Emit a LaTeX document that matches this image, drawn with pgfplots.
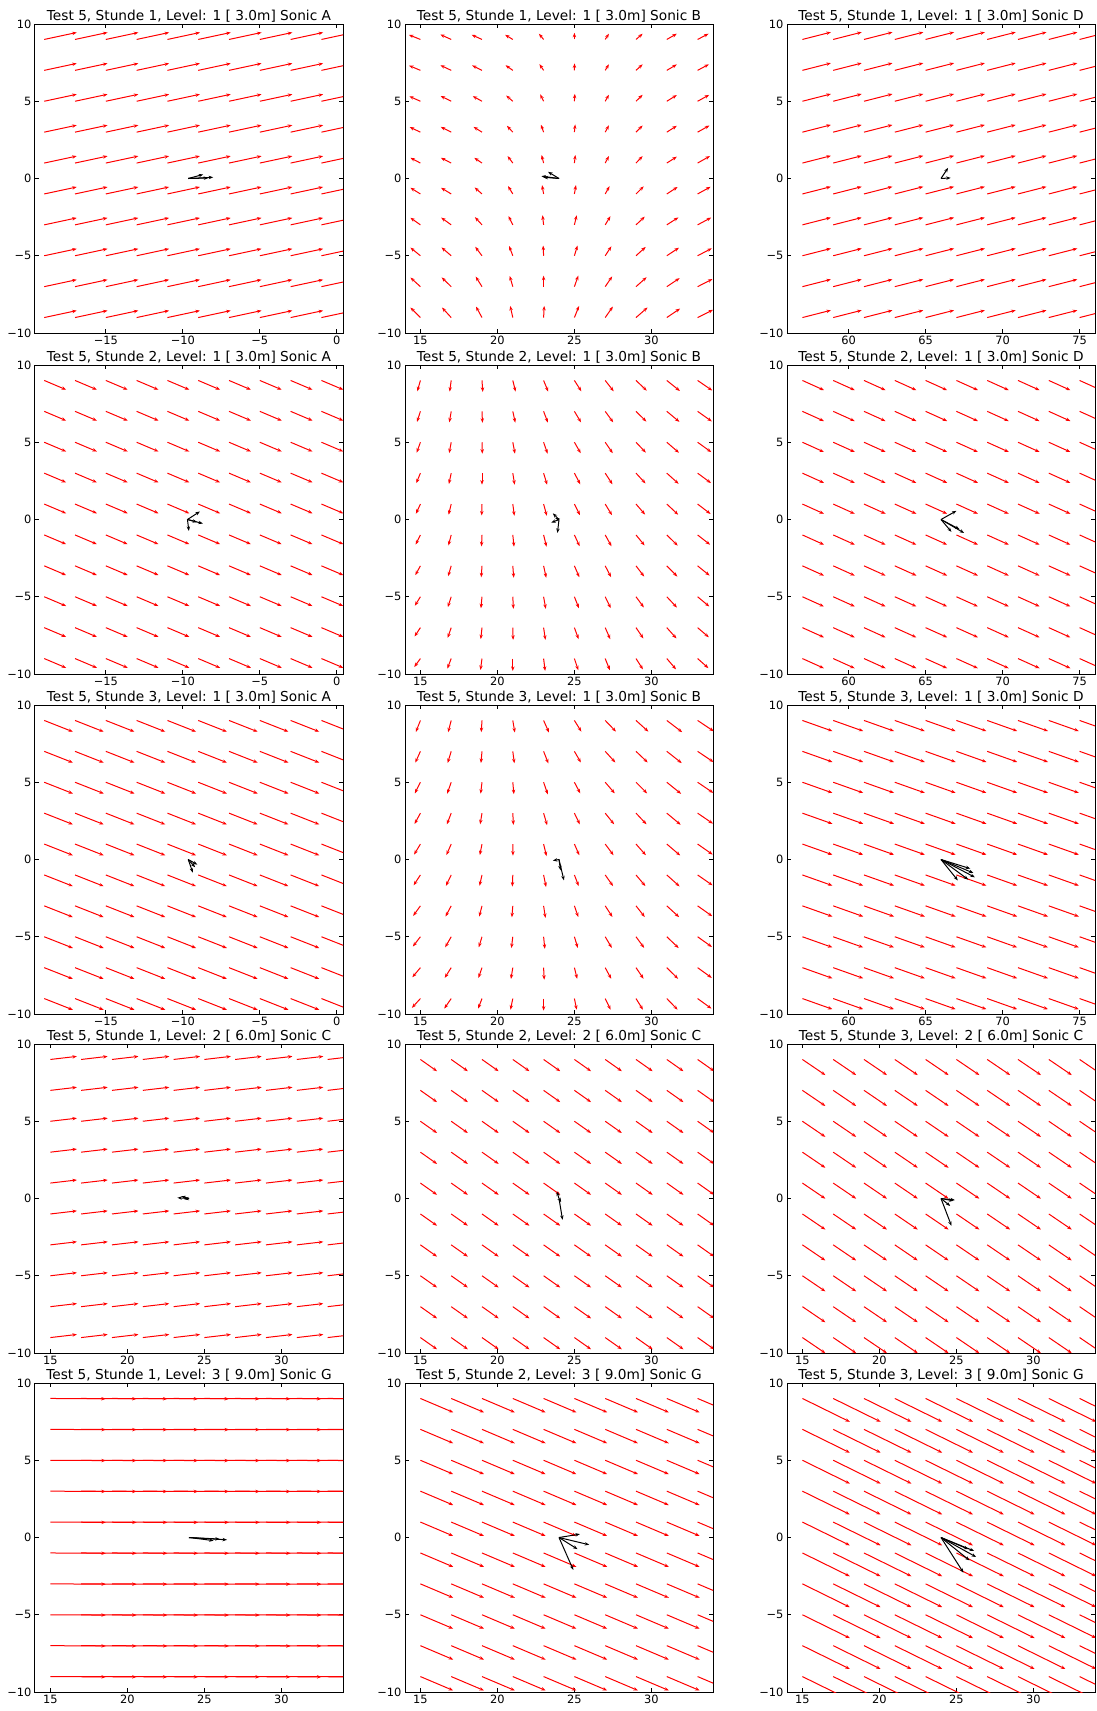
\documentclass[border=0pt]{standalone}
\usepackage{fontspec}
\setmainfont{DejaVu Sans}
\usepackage{pgfplots}
\usepackage{pgfplotstable}
\pgfplotsset{compat=1.18}
\usetikzlibrary{arrows.meta}

\pgfplotstableread[row sep=\\]{x y\\
-19 9\\ -17 9\\ -15 9\\ -13 9\\ -11 9\\ -9 9\\ -7 9\\ -5 9\\ -3 9\\ -1 9\\
-19 7\\ -17 7\\ -15 7\\ -13 7\\ -11 7\\ -9 7\\ -7 7\\ -5 7\\ -3 7\\ -1 7\\
-19 5\\ -17 5\\ -15 5\\ -13 5\\ -11 5\\ -9 5\\ -7 5\\ -5 5\\ -3 5\\ -1 5\\
-19 3\\ -17 3\\ -15 3\\ -13 3\\ -11 3\\ -9 3\\ -7 3\\ -5 3\\ -3 3\\ -1 3\\
-19 1\\ -17 1\\ -15 1\\ -13 1\\ -11 1\\ -9 1\\ -7 1\\ -5 1\\ -3 1\\ -1 1\\
-19 -1\\ -17 -1\\ -15 -1\\ -13 -1\\ -11 -1\\ -9 -1\\ -7 -1\\ -5 -1\\ -3 -1\\ -1 -1\\
-19 -3\\ -17 -3\\ -15 -3\\ -13 -3\\ -11 -3\\ -9 -3\\ -7 -3\\ -5 -3\\ -3 -3\\ -1 -3\\
-19 -5\\ -17 -5\\ -15 -5\\ -13 -5\\ -11 -5\\ -9 -5\\ -7 -5\\ -5 -5\\ -3 -5\\ -1 -5\\
-19 -7\\ -17 -7\\ -15 -7\\ -13 -7\\ -11 -7\\ -9 -7\\ -7 -7\\ -5 -7\\ -3 -7\\ -1 -7\\
-19 -9\\ -17 -9\\ -15 -9\\ -13 -9\\ -11 -9\\ -9 -9\\ -7 -9\\ -5 -9\\ -3 -9\\ -1 -9\\
}\gridA

\pgfplotstableread[row sep=\\]{x y\\
15 9\\ 17 9\\ 19 9\\ 21 9\\ 23 9\\ 25 9\\ 27 9\\ 29 9\\ 31 9\\ 33 9\\
15 7\\ 17 7\\ 19 7\\ 21 7\\ 23 7\\ 25 7\\ 27 7\\ 29 7\\ 31 7\\ 33 7\\
15 5\\ 17 5\\ 19 5\\ 21 5\\ 23 5\\ 25 5\\ 27 5\\ 29 5\\ 31 5\\ 33 5\\
15 3\\ 17 3\\ 19 3\\ 21 3\\ 23 3\\ 25 3\\ 27 3\\ 29 3\\ 31 3\\ 33 3\\
15 1\\ 17 1\\ 19 1\\ 21 1\\ 23 1\\ 25 1\\ 27 1\\ 29 1\\ 31 1\\ 33 1\\
15 -1\\ 17 -1\\ 19 -1\\ 21 -1\\ 23 -1\\ 25 -1\\ 27 -1\\ 29 -1\\ 31 -1\\ 33 -1\\
15 -3\\ 17 -3\\ 19 -3\\ 21 -3\\ 23 -3\\ 25 -3\\ 27 -3\\ 29 -3\\ 31 -3\\ 33 -3\\
15 -5\\ 17 -5\\ 19 -5\\ 21 -5\\ 23 -5\\ 25 -5\\ 27 -5\\ 29 -5\\ 31 -5\\ 33 -5\\
15 -7\\ 17 -7\\ 19 -7\\ 21 -7\\ 23 -7\\ 25 -7\\ 27 -7\\ 29 -7\\ 31 -7\\ 33 -7\\
15 -9\\ 17 -9\\ 19 -9\\ 21 -9\\ 23 -9\\ 25 -9\\ 27 -9\\ 29 -9\\ 31 -9\\ 33 -9\\
}\gridB

\pgfplotstableread[row sep=\\]{x y\\
57 9\\ 59 9\\ 61 9\\ 63 9\\ 65 9\\ 67 9\\ 69 9\\ 71 9\\ 73 9\\ 75 9\\
57 7\\ 59 7\\ 61 7\\ 63 7\\ 65 7\\ 67 7\\ 69 7\\ 71 7\\ 73 7\\ 75 7\\
57 5\\ 59 5\\ 61 5\\ 63 5\\ 65 5\\ 67 5\\ 69 5\\ 71 5\\ 73 5\\ 75 5\\
57 3\\ 59 3\\ 61 3\\ 63 3\\ 65 3\\ 67 3\\ 69 3\\ 71 3\\ 73 3\\ 75 3\\
57 1\\ 59 1\\ 61 1\\ 63 1\\ 65 1\\ 67 1\\ 69 1\\ 71 1\\ 73 1\\ 75 1\\
57 -1\\ 59 -1\\ 61 -1\\ 63 -1\\ 65 -1\\ 67 -1\\ 69 -1\\ 71 -1\\ 73 -1\\ 75 -1\\
57 -3\\ 59 -3\\ 61 -3\\ 63 -3\\ 65 -3\\ 67 -3\\ 69 -3\\ 71 -3\\ 73 -3\\ 75 -3\\
57 -5\\ 59 -5\\ 61 -5\\ 63 -5\\ 65 -5\\ 67 -5\\ 69 -5\\ 71 -5\\ 73 -5\\ 75 -5\\
57 -7\\ 59 -7\\ 61 -7\\ 63 -7\\ 65 -7\\ 67 -7\\ 69 -7\\ 71 -7\\ 73 -7\\ 75 -7\\
57 -9\\ 59 -9\\ 61 -9\\ 63 -9\\ 65 -9\\ 67 -9\\ 69 -9\\ 71 -9\\ 73 -9\\ 75 -9\\
}\gridD

% Stunde 1, Sonic B
\pgfplotstableread[row sep=\\]{x y u v\\
15 9 -0.75 0.30\\ 17 9 -0.71 0.32\\ 19 9 -0.67 0.30\\ 21 9 -0.50 0.30\\ 23 9 -0.30 0.37\\ 25 9 0.00 0.43\\ 27 9 0.24 0.37\\ 29 9 0.43 0.37\\ 31 9 0.65 0.37\\ 33 9 0.71 0.37\\
15 7 -0.74 0.31\\ 17 7 -0.70 0.33\\ 19 7 -0.64 0.32\\ 21 7 -0.47 0.33\\ 23 7 -0.27 0.40\\ 25 7 0.01 0.45\\ 27 7 0.24 0.39\\ 29 7 0.43 0.39\\ 31 7 0.65 0.38\\ 33 7 0.73 0.39\\
15 5 -0.72 0.32\\ 17 5 -0.69 0.34\\ 19 5 -0.60 0.33\\ 21 5 -0.43 0.37\\ 23 5 -0.22 0.44\\ 25 5 0.03 0.48\\ 27 5 0.24 0.42\\ 29 5 0.43 0.42\\ 31 5 0.65 0.40\\ 33 5 0.75 0.41\\
15 3 -0.70 0.33\\ 17 3 -0.68 0.34\\ 19 3 -0.55 0.34\\ 21 3 -0.38 0.41\\ 23 3 -0.17 0.48\\ 25 3 0.05 0.50\\ 27 3 0.24 0.44\\ 29 3 0.43 0.43\\ 31 3 0.65 0.41\\ 33 3 0.77 0.43\\
15 1 -0.65 0.34\\ 17 1 -0.67 0.34\\ 19 1 -0.50 0.34\\ 21 1 -0.34 0.45\\ 23 1 -0.13 0.52\\ 25 1 0.06 0.52\\ 27 1 0.24 0.45\\ 29 1 0.43 0.45\\ 31 1 0.65 0.41\\ 33 1 0.80 0.45\\
15 -1 -0.65 0.40\\ 17 -1 -0.66 0.40\\ 19 -1 -0.48 0.42\\ 21 -1 -0.31 0.51\\ 23 -1 -0.10 0.57\\ 25 -1 0.10 0.57\\ 27 -1 0.28 0.50\\ 29 -1 0.50 0.49\\ 31 -1 0.70 0.45\\ 33 -1 0.84 0.46\\
15 -3 -0.65 0.46\\ 17 -3 -0.65 0.47\\ 19 -3 -0.46 0.50\\ 21 -3 -0.28 0.57\\ 23 -3 -0.07 0.62\\ 25 -3 0.15 0.62\\ 27 -3 0.34 0.56\\ 29 -3 0.57 0.53\\ 31 -3 0.75 0.48\\ 33 -3 0.88 0.47\\
15 -5 -0.65 0.53\\ 17 -5 -0.63 0.54\\ 19 -5 -0.44 0.58\\ 21 -5 -0.24 0.63\\ 23 -5 -0.03 0.66\\ 25 -5 0.20 0.66\\ 27 -5 0.40 0.61\\ 29 -5 0.63 0.57\\ 31 -5 0.79 0.52\\ 33 -5 0.92 0.48\\
15 -7 -0.65 0.59\\ 17 -7 -0.62 0.60\\ 19 -7 -0.41 0.65\\ 21 -7 -0.20 0.69\\ 23 -7 0.00 0.71\\ 25 -7 0.25 0.71\\ 27 -7 0.45 0.66\\ 29 -7 0.69 0.61\\ 31 -7 0.83 0.55\\ 33 -7 0.96 0.49\\
15 -9 -0.65 0.65\\ 17 -9 -0.60 0.65\\ 19 -9 -0.39 0.71\\ 21 -9 -0.17 0.75\\ 23 -9 0.04 0.75\\ 25 -9 0.30 0.75\\ 27 -9 0.50 0.71\\ 29 -9 0.75 0.65\\ 31 -9 0.86 0.58\\ 33 -9 1.00 0.50\\
}\tabSoneB

% Stunde 2, Sonic B
\pgfplotstableread[row sep=\\]{x y u v\\
15 9 -0.20 -0.70\\ 17 9 -0.10 -0.72\\ 19 9 0.05 -0.74\\ 21 9 0.18 -0.72\\ 23 9 0.30 -0.72\\ 25 9 0.45 -0.70\\ 27 9 0.55 -0.70\\ 29 9 0.70 -0.66\\ 31 9 0.85 -0.68\\ 33 9 0.95 -0.65\\
15 7 -0.22 -0.68\\ 17 7 -0.12 -0.71\\ 19 7 0.03 -0.74\\ 21 7 0.16 -0.73\\ 23 7 0.28 -0.73\\ 25 7 0.43 -0.71\\ 27 7 0.52 -0.71\\ 29 7 0.67 -0.66\\ 31 7 0.82 -0.68\\ 33 7 0.92 -0.65\\
15 5 -0.24 -0.67\\ 17 5 -0.13 -0.70\\ 19 5 0.02 -0.74\\ 21 5 0.14 -0.74\\ 23 5 0.26 -0.74\\ 25 5 0.41 -0.71\\ 27 5 0.49 -0.71\\ 29 5 0.64 -0.67\\ 31 5 0.79 -0.68\\ 33 5 0.89 -0.64\\
15 3 -0.27 -0.65\\ 17 3 -0.15 -0.70\\ 19 3 0.00 -0.74\\ 21 3 0.12 -0.75\\ 23 3 0.23 -0.75\\ 25 3 0.38 -0.72\\ 27 3 0.47 -0.72\\ 29 3 0.62 -0.67\\ 31 3 0.77 -0.69\\ 33 3 0.87 -0.64\\
15 1 -0.29 -0.63\\ 17 1 -0.17 -0.69\\ 19 1 -0.02 -0.74\\ 21 1 0.10 -0.76\\ 23 1 0.21 -0.76\\ 25 1 0.36 -0.72\\ 27 1 0.44 -0.72\\ 29 1 0.59 -0.68\\ 31 1 0.74 -0.69\\ 33 1 0.84 -0.64\\
15 -1 -0.31 -0.62\\ 17 -1 -0.18 -0.68\\ 19 -1 -0.03 -0.74\\ 21 -1 0.08 -0.76\\ 23 -1 0.19 -0.76\\ 25 -1 0.34 -0.73\\ 27 -1 0.41 -0.73\\ 29 -1 0.56 -0.68\\ 31 -1 0.71 -0.69\\ 33 -1 0.81 -0.63\\
15 -3 -0.33 -0.60\\ 17 -3 -0.20 -0.67\\ 19 -3 -0.05 -0.74\\ 21 -3 0.06 -0.77\\ 23 -3 0.17 -0.77\\ 25 -3 0.32 -0.73\\ 27 -3 0.38 -0.73\\ 29 -3 0.53 -0.69\\ 31 -3 0.68 -0.69\\ 33 -3 0.78 -0.63\\
15 -5 -0.36 -0.58\\ 17 -5 -0.22 -0.67\\ 19 -5 -0.07 -0.74\\ 21 -5 0.04 -0.78\\ 23 -5 0.14 -0.78\\ 25 -5 0.29 -0.74\\ 27 -5 0.36 -0.74\\ 29 -5 0.51 -0.69\\ 31 -5 0.66 -0.70\\ 33 -5 0.76 -0.63\\
15 -7 -0.38 -0.57\\ 17 -7 -0.23 -0.66\\ 19 -7 -0.08 -0.74\\ 21 -7 0.02 -0.79\\ 23 -7 0.12 -0.79\\ 25 -7 0.27 -0.74\\ 27 -7 0.33 -0.74\\ 29 -7 0.48 -0.70\\ 31 -7 0.63 -0.70\\ 33 -7 0.73 -0.62\\
15 -9 -0.40 -0.55\\ 17 -9 -0.25 -0.65\\ 19 -9 -0.10 -0.74\\ 21 -9 0.00 -0.80\\ 23 -9 0.10 -0.80\\ 25 -9 0.25 -0.75\\ 27 -9 0.30 -0.75\\ 29 -9 0.45 -0.70\\ 31 -9 0.60 -0.70\\ 33 -9 0.70 -0.62\\
}\tabStwoB

% Stunde 3, Sonic B
\pgfplotstableread[row sep=\\]{x y u v\\
15 9 -0.30 -0.75\\ 17 9 -0.20 -0.76\\ 19 9 -0.05 -0.76\\ 21 9 0.13 -0.78\\ 23 9 0.35 -0.78\\ 25 9 0.45 -0.72\\ 27 9 0.70 -0.72\\ 29 9 0.80 -0.72\\ 31 9 1.00 -0.76\\ 33 9 1.05 -0.70\\
15 7 -0.33 -0.73\\ 17 7 -0.23 -0.75\\ 19 7 -0.07 -0.75\\ 21 7 0.10 -0.77\\ 23 7 0.31 -0.78\\ 25 7 0.42 -0.72\\ 27 7 0.66 -0.72\\ 29 7 0.76 -0.72\\ 31 7 0.97 -0.76\\ 33 7 1.03 -0.69\\
15 5 -0.36 -0.72\\ 17 5 -0.26 -0.74\\ 19 5 -0.09 -0.74\\ 21 5 0.07 -0.77\\ 23 5 0.27 -0.78\\ 25 5 0.38 -0.72\\ 27 5 0.62 -0.72\\ 29 5 0.72 -0.72\\ 31 5 0.93 -0.75\\ 33 5 1.02 -0.69\\
15 3 -0.38 -0.70\\ 17 3 -0.28 -0.72\\ 19 3 -0.12 -0.72\\ 21 3 0.04 -0.76\\ 23 3 0.23 -0.78\\ 25 3 0.35 -0.72\\ 27 3 0.58 -0.72\\ 29 3 0.68 -0.72\\ 31 3 0.90 -0.75\\ 33 3 1.00 -0.68\\
15 1 -0.41 -0.68\\ 17 1 -0.31 -0.71\\ 19 1 -0.14 -0.71\\ 21 1 0.01 -0.75\\ 23 1 0.19 -0.78\\ 25 1 0.32 -0.72\\ 27 1 0.54 -0.72\\ 29 1 0.64 -0.72\\ 31 1 0.87 -0.74\\ 33 1 0.98 -0.68\\
15 -1 -0.44 -0.67\\ 17 -1 -0.34 -0.70\\ 19 -1 -0.16 -0.70\\ 21 -1 -0.03 -0.75\\ 23 -1 0.16 -0.78\\ 25 -1 0.28 -0.72\\ 27 -1 0.51 -0.72\\ 29 -1 0.61 -0.72\\ 31 -1 0.83 -0.74\\ 33 -1 0.97 -0.67\\
15 -3 -0.47 -0.65\\ 17 -3 -0.37 -0.69\\ 19 -3 -0.18 -0.69\\ 21 -3 -0.06 -0.74\\ 23 -3 0.12 -0.78\\ 25 -3 0.25 -0.72\\ 27 -3 0.47 -0.72\\ 29 -3 0.57 -0.72\\ 31 -3 0.80 -0.73\\ 33 -3 0.95 -0.67\\
15 -5 -0.49 -0.63\\ 17 -5 -0.39 -0.68\\ 19 -5 -0.21 -0.68\\ 21 -5 -0.09 -0.73\\ 23 -5 0.08 -0.78\\ 25 -5 0.22 -0.72\\ 27 -5 0.43 -0.72\\ 29 -5 0.53 -0.72\\ 31 -5 0.77 -0.73\\ 33 -5 0.93 -0.66\\
15 -7 -0.52 -0.62\\ 17 -7 -0.42 -0.66\\ 19 -7 -0.23 -0.66\\ 21 -7 -0.12 -0.73\\ 23 -7 0.04 -0.78\\ 25 -7 0.18 -0.72\\ 27 -7 0.39 -0.72\\ 29 -7 0.49 -0.72\\ 31 -7 0.73 -0.72\\ 33 -7 0.92 -0.66\\
15 -9 -0.55 -0.60\\ 17 -9 -0.45 -0.65\\ 19 -9 -0.25 -0.65\\ 21 -9 -0.15 -0.72\\ 23 -9 0.00 -0.78\\ 25 -9 0.15 -0.72\\ 27 -9 0.35 -0.72\\ 29 -9 0.45 -0.72\\ 31 -9 0.70 -0.72\\ 33 -9 0.90 -0.65\\
}\tabSthreeB

\pgfplotsset{
  qv/.style={scale only axis, width=308pt, height=309pt, anchor=north west,
    ymin=-10, ymax=10, ytick={-10,-5,0,5,10}, yticklabels={−10,−5,0,5,10},
    tick label style={font=\fontsize{11.4}{13}\selectfont},
    xticklabel style={inner sep=1pt, yshift=-1.5pt},
    every axis title/.style={at={(0.5,1)}, anchor=base, inner sep=0pt, yshift=3.6pt, font=\fontsize{13.7}{16}\selectfont},
    axis line style={line width=1pt},
    major tick length=4pt,
    every tick/.style={black, line width=0.8pt},
    tick pos=both, xticklabel pos=lower, yticklabel pos=left},
  colA/.style={xmin=-19.6, xmax=0.4, xtick={-15,-10,-5,0}, xticklabels={−15,−10,−5,0}},
  colB/.style={xmin=14, xmax=34, xtick={15,20,25,30}, xticklabels={15,20,25,30}},
  colD/.style={xmin=56, xmax=76, xtick={60,65,70,75}, xticklabels={60,65,70,75}},
  redq/.style={red, line width=1pt, -{Stealth[length=4.5pt,width=3.4pt]}},
  blkq/.style={black, line width=1pt, -{Stealth[length=4.5pt,width=3.4pt]}, quiver={u=\thisrow{u},v=\thisrow{v}}},
}

\begin{document}
\begin{tikzpicture}
\useasboundingbox (0,0) rectangle (1097pt,-1711pt);

% ---------------- Row 1 ----------------
\begin{axis}[qv, colA, at={(35pt,-24pt)}, title={Test 5, Stunde 1, Level: 1 [ 3.0m] Sonic A}]
\addplot[redq, quiver={u=2.11, v=0.45}] table {\gridA};
\addplot[blkq] table[row sep=\\] {x y u v\\ -9.65 0 1.62 0.08\\ -9.65 0 0.97 0.26\\ -9.65 0 1.30 0.03\\};
\end{axis}
\begin{axis}[qv, colB, at={(405pt,-24pt)}, title={Test 5, Stunde 1, Level: 1 [ 3.0m] Sonic B}]
\addplot[redq, quiver={u=\thisrow{u}, v=\thisrow{v}}] table {\tabSoneB};
\addplot[blkq] table[row sep=\\] {x y u v\\ 24 0 -1.14 0.15\\ 24 0 -0.71 0.43\\ 24 0 -1.00 0.08\\};
\end{axis}
\begin{axis}[qv, colD, at={(787pt,-24pt)}, title={Test 5, Stunde 1, Level: 1 [ 3.0m] Sonic D}]
\addplot[redq, quiver={u=1.85, v=0.47}] table {\gridD};
\addplot[blkq] table[row sep=\\] {x y u v\\ 66 0 0.46 0.69\\ 66 0 0.63 0.04\\};
\end{axis}

% ---------------- Row 2 ----------------
\begin{axis}[qv, colA, at={(35pt,-365pt)}, title={Test 5, Stunde 2, Level: 1 [ 3.0m] Sonic A}]
\addplot[redq, quiver={u=1.42, v=-0.60}] table {\gridA};
\addplot[blkq] table[row sep=\\] {x y u v\\ -9.7 0 0.81 0.52\\ -9.7 0 1.00 -0.26\\ -9.7 0 0.63 -0.17\\ -9.7 0 0.09 -0.74\\};
\end{axis}
\begin{axis}[qv, colB, at={(405pt,-365pt)}, title={Test 5, Stunde 2, Level: 1 [ 3.0m] Sonic B}]
\addplot[redq, quiver={u=\thisrow{u}, v=\thisrow{v}}] table {\tabStwoB};
\addplot[blkq] table[row sep=\\] {x y u v\\ 24 0 -0.40 0.40\\ 24 0 -0.10 -0.87\\ 24 0 -0.50 -0.20\\ 24 0 -0.25 0.10\\};
\end{axis}
\begin{axis}[qv, colD, at={(787pt,-365pt)}, title={Test 5, Stunde 2, Level: 1 [ 3.0m] Sonic D}]
\addplot[redq, quiver={u=1.40, v=-0.63}] table {\gridD};
\addplot[blkq] table[row sep=\\] {x y u v\\ 66 0 1.00 0.56\\ 66 0 1.50 -0.87\\ 66 0 0.68 -0.80\\ 66 0 1.20 -0.63\\};
\end{axis}

% ---------------- Row 3 ----------------
\begin{axis}[qv, colA, at={(35pt,-705pt)}, title={Test 5, Stunde 3, Level: 1 [ 3.0m] Sonic A}]
\addplot[redq, quiver={u=1.86, v=-0.73}] table {\gridA};
\addplot[blkq] table[row sep=\\] {x y u v\\ -9.65 0 0.59 -0.33\\ -9.65 0 0.30 -0.85\\ -9.65 0 0.45 -0.50\\};
\end{axis}
\begin{axis}[qv, colB, at={(405pt,-705pt)}, title={Test 5, Stunde 3, Level: 1 [ 3.0m] Sonic B}]
\addplot[redq, quiver={u=\thisrow{u}, v=\thisrow{v}}] table {\tabSthreeB};
\addplot[blkq] table[row sep=\\] {x y u v\\ 24 0 -0.40 -0.07\\ 24 0 0.32 -1.35\\ 24 0 0.10 -0.70\\};
\end{axis}
\begin{axis}[qv, colD, at={(787pt,-705pt)}, title={Test 5, Stunde 3, Level: 1 [ 3.0m] Sonic D}]
\addplot[redq, quiver={u=1.95, v=-0.69}] table {\gridD};
\addplot[blkq] table[row sep=\\] {x y u v\\ 66 0 1.90 -0.59\\ 66 0 2.20 -1.15\\ 66 0 1.77 -1.30\\ 66 0 1.09 -1.35\\ 66 0 2.10 -0.87\\};
\end{axis}

% ---------------- Row 4 ----------------
\begin{axis}[qv, colB, at={(35pt,-1044pt)}, title={Test 5, Stunde 1, Level: 2 [ 6.0m] Sonic C}]
\addplot[redq, quiver={u=1.72, v=0.20}] table {\gridB};
\addplot[blkq] table[row sep=\\] {x y u v\\ 24 0 -0.75 0.05\\ 24 0 -0.50 0.15\\ 24 0 -0.30 -0.05\\};
\end{axis}
\begin{axis}[qv, colB, at={(405pt,-1044pt)}, title={Test 5, Stunde 2, Level: 2 [ 6.0m] Sonic C}]
\addplot[redq, quiver={u=1.08, v=-0.76}] table {\gridB};
\addplot[blkq] table[row sep=\\] {x y u v\\ 24 0 -0.14 0.45\\ 24 0 0.23 -1.38\\ 24 0 0.14 -0.24\\};
\end{axis}
\begin{axis}[qv, colB, at={(787pt,-1044pt)}, title={Test 5, Stunde 3, Level: 2 [ 6.0m] Sonic C}]
\addplot[redq, quiver={u=1.49, v=-1.01}] table {\gridB};
\addplot[blkq] table[row sep=\\] {x y u v\\ 24 0 0.80 -0.15\\ 24 0 0.68 -1.77\\ 24 0 0.60 -0.48\\ 24 0 0.90 -0.10\\};
\end{axis}

% ---------------- Row 5 ----------------
\begin{axis}[qv, colB, at={(35pt,-1383pt)}, title={Test 5, Stunde 1, Level: 3 [ 9.0m] Sonic G}]
\addplot[redq, quiver={u=3.60, v=-0.02}] table {\gridB};
\addplot[blkq] table[row sep=\\] {x y u v\\ 24 0 2.47 -0.15\\ 24 0 1.60 -0.20\\ 24 0 2.00 -0.10\\};
\end{axis}
\begin{axis}[qv, colB, at={(405pt,-1383pt)}, title={Test 5, Stunde 2, Level: 3 [ 9.0m] Sonic G}]
\addplot[redq, quiver={u=2.13, v=-0.90}] table {\gridB};
\addplot[blkq] table[row sep=\\] {x y u v\\ 24 0 1.36 0.22\\ 24 0 1.96 -0.47\\ 24 0 1.20 -0.75\\ 24 0 0.93 -2.10\\};
\end{axis}
\begin{axis}[qv, colB, at={(787pt,-1383pt)}, title={Test 5, Stunde 3, Level: 3 [ 9.0m] Sonic G}]
\addplot[redq, quiver={u=3.08, v=-1.51}] table {\gridB};
\addplot[blkq] table[row sep=\\] {x y u v\\ 24 0 2.15 -0.87\\ 24 0 2.28 -1.26\\ 24 0 1.85 -1.48\\ 24 0 1.46 -2.28\\ 24 0 1.78 -0.76\\};
\end{axis}
\end{tikzpicture}
\end{document}
